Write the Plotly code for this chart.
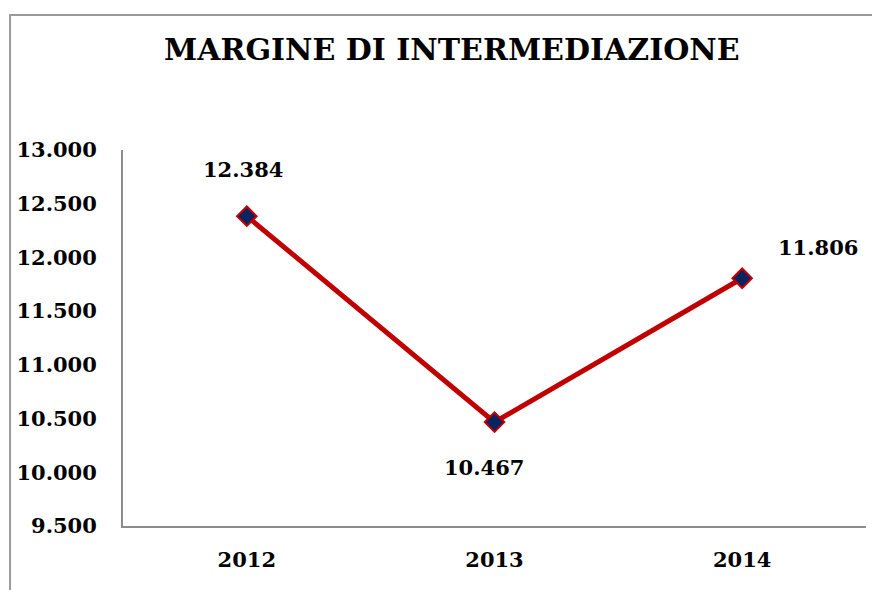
import plotly.graph_objects as go

categories = ["2012", "2013", "2014"]
values = [12384, 10467, 11806]
label_texts = ["12.384", "10.467", "11.806"]
y_ticks = [9500, 10000, 10500, 11000, 11500, 12000, 12500, 13000]

FONT = "DejaVu Serif"
fig = go.Figure()
fig.add_trace(go.Scatter(
    x=categories, y=values, mode="lines+markers",
    line=dict(color="#C00000", width=5),
    marker=dict(symbol="diamond", size=15, color="#0B2360",
                line=dict(color="#C00000", width=2)),
    hoverinfo="skip", showlegend=False,
))

# data labels (Excel-style placement)
shifts = [(-4, 47), (-11, -45), (76, 31)]
for i, (v, t, (dx, dy)) in enumerate(zip(values, label_texts, shifts)):
    fig.add_annotation(x=i, y=v, xref="x", yref="y", text=t, showarrow=False,
                       xshift=dx, yshift=dy,
                       font=dict(family=FONT, size=21, color="black", weight="bold"))

# chart-area border
fig.add_shape(type="rect", xref="paper", yref="paper",
              x0=-0.152, x1=1.03, y0=-0.2, y1=1.359,
              line=dict(color="#9a9a9a", width=2), layer="below")

fig.update_layout(
    width=872, height=582,
    margin=dict(l=115, r=14, t=142, b=64, autoexpand=False),
    paper_bgcolor="white", plot_bgcolor="white",
    separators=",.",
    title=dict(text="MARGINE DI INTERMEDIAZIONE", x=0.509, xanchor="center",
               y=0.928, yanchor="middle", automargin=False,
               font=dict(family=FONT, size=30, color="black", weight="bold")),
    xaxis=dict(type="category", range=[-0.5, 2.5], showgrid=False,
               showline=True, linecolor="#8c8c8c", linewidth=2,
               ticks="", ticklabelstandoff=14, automargin=False,
               tickfont=dict(family=FONT, size=21, color="black", weight="bold")),
    yaxis=dict(range=[9500, 13000], tickvals=y_ticks, tickformat=",",
               showgrid=False, zeroline=False, automargin=False,
               showline=True, linecolor="#8c8c8c", linewidth=2,
               ticks="", ticklabelstandoff=20,
               tickfont=dict(family=FONT, size=21, color="black", weight="bold")),
)

fig.write_html("out.html")
